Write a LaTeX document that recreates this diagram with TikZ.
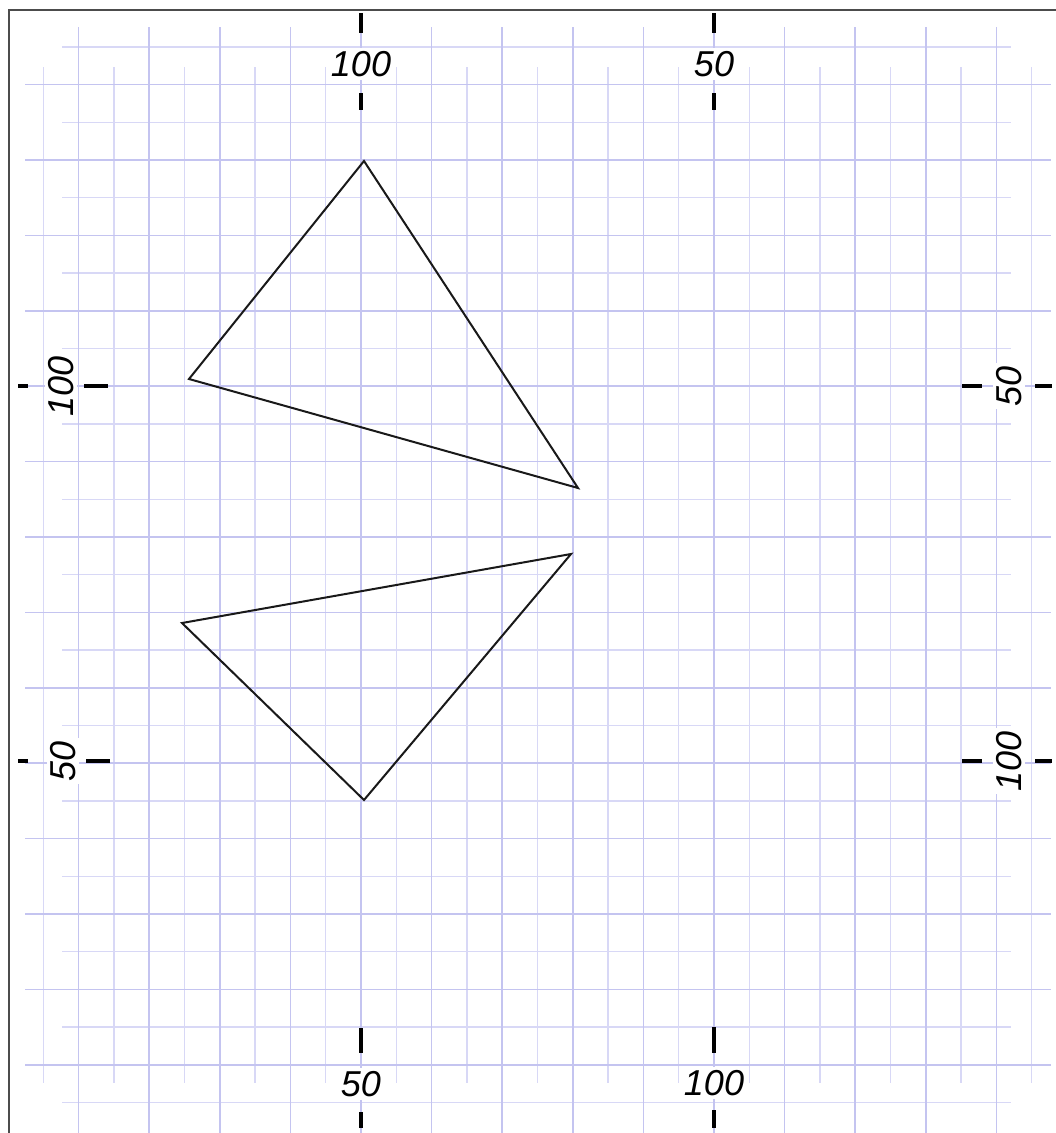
\documentclass[tikz,border=0pt]{standalone}
\usepackage{fontspec}
\setmainfont{Liberation Sans}
\definecolor{gridA}{RGB}{196,196,240}
\definecolor{gridB}{RGB}{216,216,246}
\begin{document}
\begin{tikzpicture}[x=1pt,y=-1pt,
  gA/.style={draw=gridA, line width=1.6pt},
  gB/.style={draw=gridB, line width=1.4pt},
  tickmark/.style={draw=black, line width=3.5pt},
  lbl/.style={font=\fontsize{36}{36}\selectfont\itshape, fill=white, inner sep=3pt},
  tri/.style={draw=black!90, line width=2pt, line join=miter},
  frameline/.style={draw=black!70, line width=2.8pt}]
\useasboundingbox (0,0) rectangle (1056,1133);
\fill[white] (0,0) rectangle (1056,1133);
% grid B (lighter, shifted)
\foreach \k in {0,...,14} \draw[gB] ({43.3+70.6*\k},67) -- ({43.3+70.6*\k},1083);
\foreach \k in {0,...,14} \draw[gB] (62,{46.8+75.4*\k}) -- (1011,{46.8+75.4*\k});
% grid A
\foreach \k in {0,...,13} \draw[gA] ({78.6+70.6*\k},27) -- ({78.6+70.6*\k},1133);
\foreach \k in {0,...,13} \draw[gA] (25,{84.5+75.4*\k}) -- (1051,{84.5+75.4*\k});
% frame
\draw[frameline] (9,1133) -- (9,10) -- (1056,10);
% labels
\node[lbl] (t100) at (361,64) {100};
\node[lbl] (t50) at (714,64) {50};
\node[lbl] (b50) at (361,1084) {50};
\node[lbl] (b100) at (714,1083) {100};
\node[lbl, rotate=90] (l100) at (61,386) {100};
\node[lbl, rotate=90] (l50) at (63,761) {50};
\node[lbl, rotate=90] (r50) at (1009,386) {50};
\node[lbl, rotate=90] (r100) at (1009,761) {100};
% ticks
\draw[tickmark] (361,13) -- (361,33); \draw[tickmark] (361,93) -- (361,110);
\draw[tickmark] (714,13) -- (714,33); \draw[tickmark] (714,93) -- (714,110);
\draw[tickmark] (361,1028) -- (361,1053); \draw[tickmark] (361,1112) -- (361,1128);
\draw[tickmark] (714,1027) -- (714,1053); \draw[tickmark] (714,1110) -- (714,1128);
\draw[tickmark] (18,386) -- (28,386); \draw[tickmark] (84,386) -- (108,386);
\draw[tickmark] (18,761) -- (28,761); \draw[tickmark] (86,761) -- (110,761);
\draw[tickmark] (962,386) -- (982,386); \draw[tickmark] (1035,386) -- (1052,386);
\draw[tickmark] (962,761) -- (982,761); \draw[tickmark] (1035,761) -- (1052,761);
% triangles
\coordinate (a1) at (364,161);
\coordinate (b1) at (189,379);
\coordinate (c1) at (578,488);
\draw[tri] (a1) -- (b1) -- (c1) -- cycle;
\coordinate (a2) at (182,623);
\coordinate (b2) at (571,554);
\coordinate (c2) at (364,800);
\draw[tri] (a2) -- (b2) -- (c2) -- cycle;
\end{tikzpicture}
\end{document}
